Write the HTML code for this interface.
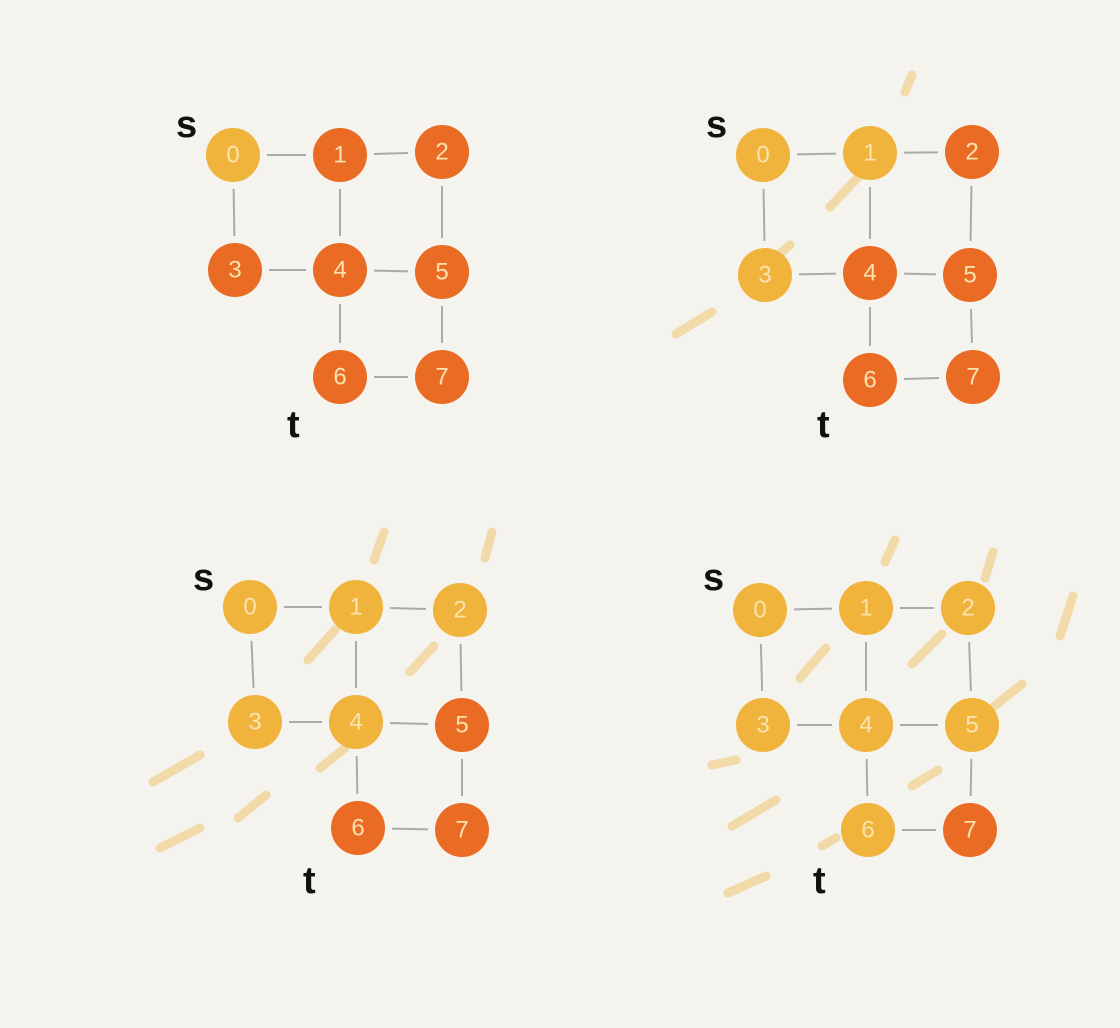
<!DOCTYPE html>
<html>
<head>
<meta charset="utf-8">
<style>
html,body{margin:0;padding:0;background:#f5f3ee;}
svg{display:block;}
.lbl{font-family:"Liberation Sans",sans-serif;font-size:38px;font-weight:bold;fill:#111;}
.num{font-family:"Liberation Sans",sans-serif;font-size:24px;fill:#fbe3b0;text-anchor:middle;dominant-baseline:central;}
</style>
</head>
<body>
<svg id="chart" width="1120" height="1028" viewBox="0 0 1120 1028" xmlns="http://www.w3.org/2000/svg">
<rect width="1120" height="1028" fill="#f5f3ee"/>
<g id="streaks" stroke="#f1d69c" stroke-width="9" stroke-linecap="round" fill="none" opacity="0.85"></g>
<g id="panels"></g>
</svg>
<script>
const nodeIds = [0,1,2,3,4,5,6,7];
const edgeList = [[0,1],[1,2],[0,3],[1,4],[2,5],[3,4],[4,5],[4,6],[5,7],[6,7]];
const panelNodes = [
  [[233,155],[340,155],[442,152],[235,270],[340,270],[442,272],[340,377],[442,377]],
  [[763,155],[870,153],[972,152],[765,275],[870,273],[970,275],[870,380],[973,377]],
  [[250,607],[356,607],[460,610],[255,722],[356,722],[462,725],[358,828],[462,830]],
  [[760,610],[866,608],[968,608],[763,725],[866,725],[972,725],[868,830],[970,830]]
];
const visitedSets = [[0],[0,1,3],[0,1,2,3,4],[0,1,2,3,4,5,6]];
const sLabels = [[176,137],[706,137],[193,590],[703,590]];
const tLabels = [[287,437],[817,437],[303,893],[813,893]];
const streakSegs = [
  [[912,75],[905,92]],[[860,175],[830,207]],[[790,245],[775,258]],[[712,312],[676,334]],
  [[384,532],[374,560]],[[492,532],[485,558]],[[335,630],[308,660]],[[434,646],[410,672]],
  [[345,748],[320,768]],[[200,755],[153,782]],[[266,795],[238,818]],[[200,828],[160,848]],
  [[895,540],[885,562]],[[993,552],[985,578]],[[1073,596],[1060,636]],[[826,648],[800,678]],
  [[942,634],[912,664]],[[1022,684],[992,708]],[[736,760],[712,765]],[[938,770],[912,786]],
  [[776,800],[732,826]],[[836,838],[822,846]],[[766,876],[728,893]]
];
const NS='http://www.w3.org/2000/svg';
const YEL='#f0b43c', ORA='#ea6b24', R=27;
const sg=document.getElementById('streaks');
streakSegs.forEach((s,i)=>{
  const l=document.createElementNS(NS,'line');
  l.setAttribute('x1',s[0][0]);l.setAttribute('y1',s[0][1]);l.setAttribute('x2',s[1][0]);l.setAttribute('y2',s[1][1]);
  
  
  sg.appendChild(l);
});
const pg=document.getElementById('panels');
panelNodes.forEach((pts,p)=>{
  const g=document.createElementNS(NS,'g');
  
  
  edgeList.forEach(e=>{
    const a=pts[e[0]],b=pts[e[1]];
    const dx=b[0]-a[0],dy=b[1]-a[1],d=Math.hypot(dx,dy),ux=dx/d,uy=dy/d,gap=R+7;
    const l=document.createElementNS(NS,'line');
    l.setAttribute('x1',a[0]+ux*gap);l.setAttribute('y1',a[1]+uy*gap);
    l.setAttribute('x2',b[0]-ux*gap);l.setAttribute('y2',b[1]-uy*gap);
    l.setAttribute('stroke','#aaa');l.setAttribute('stroke-width','2');
    
    
    g.appendChild(l);
  });
  nodeIds.forEach(n=>{
    const c=document.createElementNS(NS,'circle');
    c.setAttribute('cx',pts[n][0]);c.setAttribute('cy',pts[n][1]);c.setAttribute('r',R);
    c.setAttribute('fill',visitedSets[p].includes(n)?YEL:ORA);
    
    
    g.appendChild(c);
    const t=document.createElementNS(NS,'text');
    t.setAttribute('x',pts[n][0]);t.setAttribute('y',pts[n][1]);
    t.setAttribute('class','num');t.textContent=n;
    
    
    g.appendChild(t);
  });
  const s=document.createElementNS(NS,'text');
  s.setAttribute('x',sLabels[p][0]);s.setAttribute('y',sLabels[p][1]);s.setAttribute('class','lbl');s.textContent='s';
  
  
  g.appendChild(s);
  const t=document.createElementNS(NS,'text');
  t.setAttribute('x',tLabels[p][0]);t.setAttribute('y',tLabels[p][1]);t.setAttribute('class','lbl');t.textContent='t';
  
  
  g.appendChild(t);
  pg.appendChild(g);
});
</script>
</body>
</html>
